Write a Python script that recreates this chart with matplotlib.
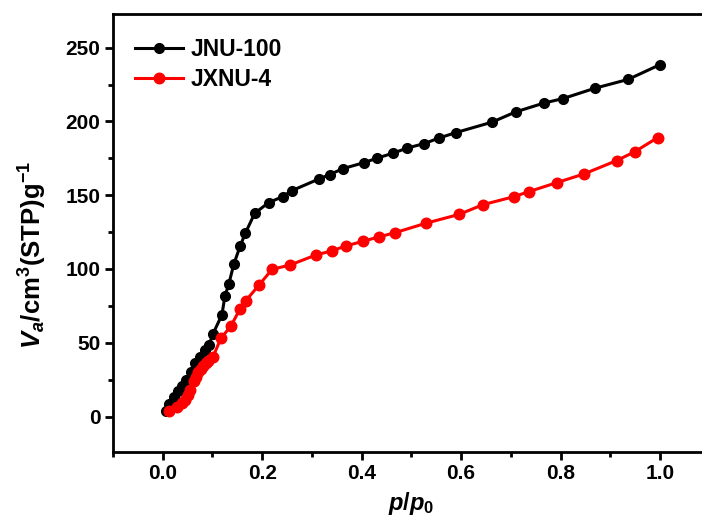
import matplotlib
matplotlib.use("Agg")
import matplotlib.pyplot as plt
from matplotlib.ticker import MultipleLocator

plt.rcParams['font.family'] = ['Liberation Sans', 'DejaVu Sans']
plt.rcParams['font.weight'] = 'bold'
plt.rcParams['mathtext.fontset'] = 'custom'
plt.rcParams['mathtext.rm'] = 'Liberation Sans:bold'
plt.rcParams['mathtext.it'] = 'Liberation Sans:bold:italic'
plt.rcParams['mathtext.bf'] = 'Liberation Sans:bold'

jnu_x = [0.006, 0.013, 0.022, 0.031, 0.038, 0.047, 0.056, 0.064, 0.074, 0.084,
         0.093, 0.101, 0.119, 0.125, 0.133, 0.143, 0.156, 0.166, 0.185, 0.213,
         0.241, 0.259, 0.314, 0.336, 0.362, 0.404, 0.430, 0.463, 0.492, 0.526,
         0.555, 0.590, 0.662, 0.710, 0.767, 0.805, 0.869, 0.936, 1.000]
jnu_y = [4, 8.5, 13, 17, 21, 25, 30, 36, 40.5, 45,
         48.5, 56, 69, 81.5, 90, 103.4, 115.8, 124.2, 137.8, 145,
         149, 153, 161, 164, 168, 172, 175, 178.5, 182, 185,
         188.7, 192.5, 199.5, 206.5, 212.5, 215.5, 222.5, 228.5, 238.5]

jxnu_x = [0.012, 0.028, 0.038, 0.045, 0.051, 0.055, 0.062, 0.066, 0.071, 0.076,
          0.081, 0.086, 0.091, 0.101, 0.117, 0.137, 0.155, 0.167, 0.193, 0.220,
          0.256, 0.308, 0.341, 0.368, 0.403, 0.434, 0.467, 0.529, 0.596, 0.644,
          0.706, 0.736, 0.793, 0.847, 0.913, 0.950, 0.995]
jxnu_y = [3.7, 6.6, 9, 11, 14.5, 18, 24, 26.5, 30, 32,
          34, 36, 37.5, 40.5, 53, 61.3, 72.7, 78.5, 88.9, 99.8,
          102.7, 109.5, 112.4, 115.6, 118.8, 121.7, 124.6, 131, 137, 143.6,
          149, 152.4, 158.6, 164.4, 173.5, 179.6, 189]

labels = ['JNU-100', 'JXNU-4']
xticks = [0.0, 0.2, 0.4, 0.6, 0.8, 1.0]
yticks = [0, 50, 100, 150, 200, 250]

fig = plt.figure(figsize=(7.02, 5.28), dpi=100)
ax = fig.add_axes([0.161, 0.144, 0.85, 0.83])

ax.plot(jnu_x, jnu_y, color='black', lw=2.2, marker='o', ms=7.0, label=labels[0])
ax.plot(jxnu_x, jxnu_y, color='#ff0000', lw=2.2, marker='o', ms=7.6, label=labels[1])

ax.set_xlim(-0.1, 1.1)
ax.set_ylim(-24, 273)
ax.set_xticks(xticks)
ax.set_xticklabels(['%.1f' % v for v in xticks])
ax.set_yticks(yticks)
ax.xaxis.set_minor_locator(MultipleLocator(0.1))
ax.yaxis.set_minor_locator(MultipleLocator(25))

for s in ['left', 'bottom', 'top']:
    ax.spines[s].set_linewidth(2.0)
ax.spines['right'].set_visible(False)
ax.tick_params(which='major', direction='out', length=6, width=2.0, labelsize=15, pad=3)
ax.tick_params(which='minor', direction='out', length=3.5, width=2.0)
ax.tick_params(top=False, right=False, which='both')
for lab in ax.get_xticklabels() + ax.get_yticklabels():
    lab.set_fontweight('bold')

ax.set_xlabel(r'$p/p_0$', fontsize=17, labelpad=5)
ax.set_ylabel(r'$V_a\mathrm{/cm^3(STP)g^{-1}}$', fontsize=18.5)
ax.yaxis.set_label_coords(-0.108, 0.45)

leg = ax.legend(loc='upper left', frameon=False, fontsize=16.5, handlelength=2.1,
                handletextpad=0.33, labelspacing=0.32, borderaxespad=0.3,
                bbox_to_anchor=(0.010, 0.982))
for t in leg.get_texts():
    t.set_fontweight('bold')

fig.savefig('out.png', dpi=100)
